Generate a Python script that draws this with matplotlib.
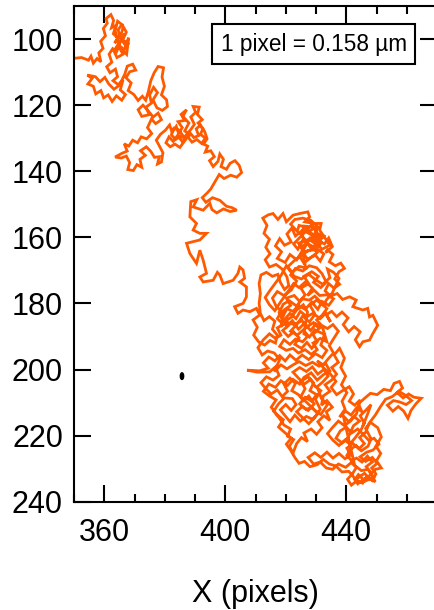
import numpy as np
import matplotlib
matplotlib.use("Agg")
import matplotlib.pyplot as plt
from matplotlib.patches import Ellipse

plt.rcParams['font.family'] = ['Liberation Sans', 'DejaVu Sans']

# ---- data (positions in image pixels) ----
seg_start = [(350.3,105.8),(352.5,105.6),(354.8,106.4),(355.6,105.2),(356.4,107.3),(357.6,105.9),(358.9,106.9),(358.2,104.2),(359.6,102.8),(358.8,100.7),(360.4,99.0),(359.7,96.8),(361.0,95.2),(360.6,93.8),(362.2,92.6),(363.1,94.4),(362.4,96.6),(363.9,95.8),(363.0,98.4),(364.6,99.8),(363.4,101.2),(365.6,98.5),(366.3,96.3),(367.3,97.9),(366.1,100.3),(367.9,101.4),(366.6,103.1),(364.9,102.0),(367.4,104.6),(368.1,99.6),(366.9,101.8),(365.2,99.4),(364.6,97.2),(365.8,95.6),(364.4,94.6),(363.6,97.4),(365.0,102.6),(366.2,104.6),(364.2,105.6),(363.2,103.6),(366.8,98.4),(365.3,100.9),(364.1,103.8),(362.8,102.9),(361.6,104.6),(362.5,107.0),(360.8,108.4),(361.9,110.2),(363.7,109.1),(364.4,111.4),(362.9,112.6),(364.6,113.8),(366.2,112.4),(365.3,115.4),(367.0,116.8),(365.8,118.5),(364.0,117.2),(362.6,118.9),(361.3,116.9),(359.8,117.8),(358.9,115.6),(357.2,116.6),(356.4,114.3),(354.6,113.6),(356.0,111.9),(354.4,110.9),(357.1,111.4),(358.6,112.9),(360.2,111.6),(361.5,113.6),(363.2,115.2),(365.0,114.0),(366.8,110.6),(367.6,108.2),(369.4,107.6),(370.4,109.4),(368.4,109.9),(367.2,111.7),(368.9,113.3),(367.9,115.6),(369.8,116.8),(371.2,118.6),(372.6,117.3),(373.7,118.5)]
seg_loop = [(374.6,115.8),(375.4,112.6),(376.5,110.2),(377.8,108.3),(379.6,108.7),(379.1,111.5),(379.9,114.3),(378.9,116.9),(380.6,118.4),(380.9,120.4),(379.2,121.6),(377.4,120.8),(376.1,118.4),(377.6,116.2),(376.3,114.6),(375.0,116.9),(375.6,119.4),(373.8,120.6),(374.9,122.9),(372.4,123.4),(371.2,121.4),(372.8,120.0),(374.4,121.6),(376.2,123.6),(377.8,122.4),(378.9,124.4),(377.0,125.6),(375.6,124.2)]
seg_lower_left = [(374.3,126.8),(375.7,128.6),(374.0,130.2),(372.2,129.6),(371.0,131.4),(369.4,130.6),(368.1,132.4),(366.6,131.7),(367.6,133.9),(365.8,134.6),(363.6,135.7),(365.6,136.0),(367.3,135.4),(368.4,137.4),(367.8,139.5),(369.6,139.8),(370.8,138.0),(372.4,138.8),(371.8,136.4),(373.6,135.2),(372.0,133.8),(373.9,132.6),(375.4,134.0),(376.6,135.8),(378.2,135.6),(377.6,137.8),(378.9,137.2),(379.4,134.4),(378.2,132.3),(377.2,130.6),(378.6,128.8),(380.2,127.6)]
seg_band = [(381.6,126.0),(382.4,128.2),(383.8,126.4),(384.6,128.6),(385.8,126.8),(384.4,125.0),(386.6,124.6),(385.4,122.8),(387.2,121.4),(386.0,123.4),(388.0,125.4),(386.6,127.8),(388.4,129.0),(387.0,130.2),(385.2,129.4),(383.6,130.4),(382.2,129.0),(383.0,127.0),(384.8,127.6),(386.4,129.8),(388.6,127.4),(389.8,125.8),(388.6,123.6),(390.2,122.2),(389.4,120.4),(391.4,120.6),(390.8,122.8),(392.4,124.4),(391.0,125.4),(392.6,127.2),(391.8,128.8),(393.4,130.0),(392.2,131.6)]
seg_band2 = [(390.6,130.4),(389.0,131.2),(387.6,129.6),(385.8,131.0),(384.2,129.2),(382.8,131.0),(381.4,129.6),(380.4,131.4),(381.8,132.6),(383.4,131.8),(385.0,132.8),(386.6,130.8),(388.2,128.2),(389.6,129.8),(391.2,129.2),(390.4,127.2),(391.8,126.0),(393.2,128.0),(394.0,130.2),(392.8,131.8)]
seg_descent = [(394.2,132.4),(393.4,134.2),(395.2,133.8),(396.4,135.6),(394.8,136.8),(396.0,138.6),(397.6,137.0),(398.2,134.8),(399.4,136.4),(398.6,138.6),(400.4,139.4),(401.6,137.6),(403.2,136.8),(404.6,138.2),(405.4,140.4),(403.8,141.8),(401.8,141.2),(399.6,142.2),(398.0,141.0),(396.6,143.2),(395.2,145.4),(394.0,146.6),(392.4,148.0),(393.6,149.4),(395.8,148.0),(398.2,148.8),(400.4,150.6),(402.2,151.0),(403.8,151.8),(401.6,152.2),(399.4,151.4),(397.2,152.6),(395.6,151.6)]
seg_chain = [(394.9,149.7),(392.7,151.8),(389.4,150.8),(390.6,148.6),(388.6,149.2),(388.3,153.8),(390.5,155.8),(389.4,157.8),(391.6,158.8),(393.8,158.8),(391.6,160.8),(387.2,161.8),(388.3,164.9),(390.5,167.9),(391.6,163.9),(392.7,166.9),(393.8,170.9),(391.6,172.0),(392.7,173.5),(396.0,173.0),(397.4,170.6),(398.2,171.4),(399.3,174.0),(402.6,173.0),(404.2,170.9),(404.8,169.0),(405.9,169.9),(406.4,172.4),(404.8,173.5),(407.0,175.0),(407.0,178.0),(405.9,180.0),(403.1,181.0),(404.2,183.0),(405.9,182.0),(408.1,182.5),(410.3,181.5),(411.4,183.5),(409.2,185.0)]
seg_main_left = [(410.6,187.2),(409.4,189.6),(411.2,191.8),(413.0,192.6),(414.8,191.2),(416.6,192.0),(417.2,189.6),(415.6,187.8),(416.4,185.4),(414.6,184.0),(412.8,185.2),(411.6,183.0),(411.2,180.0),(411.6,177.0),(411.2,174.0),(411.8,171.4),(413.6,170.6),(415.6,171.8),(417.4,171.2),(418.2,173.6),(419.6,175.8),(421.0,174.6),(420.4,172.0),(418.8,169.6),(416.8,168.2),(414.6,169.0),(413.2,166.8),(414.8,165.0),(413.4,163.0),(414.6,160.6),(412.8,158.8),(413.8,156.4),(412.4,154.2),(414.2,153.2),(415.8,152.8),(417.4,154.6),(419.1,152.8),(420.2,155.3),(422.4,153.3),(424.6,152.8),(427.3,152.3),(427.9,153.8),(426.3,155.3),(429.0,155.8),(431.7,155.8),(431.2,157.8),(433.4,160.8),(434.5,162.4)]
seg_top_core = [(432.0,163.6),(429.2,161.0),(431.6,160.0),(427.4,158.4),(429.8,157.0),(426.0,156.6),(425.2,159.4),(428.6,163.6),(426.4,164.6),(424.2,161.8),(427.6,160.6),(430.6,162.4),(428.4,159.2),(425.6,157.8),(423.2,159.6),(422.0,157.2),(420.4,159.0),(421.8,161.4),(419.6,162.4),(418.0,160.4),(416.6,162.6),(418.6,164.4),(417.2,166.4),(419.8,167.6),(421.4,165.2),(423.6,166.8),(425.4,164.2),(427.2,166.6),(429.8,165.4),(431.4,167.2),(432.6,165.0),(430.2,163.4),(427.8,162.2),(425.8,160.6),(424.0,163.6),(422.6,162.0),(426.8,158.0),(428.6,156.2),(430.4,158.8),(432.6,159.6),(430.8,161.4)]
seg_top_core2 = [(428.9,163.0),(430.4,164.6),(428.2,166.2),(426.0,167.8),(424.6,165.8),(422.4,167.4),(420.6,169.0),(422.2,170.6),(424.4,168.8),(426.6,169.2),(425.2,162.8),(427.0,161.8),(425.0,159.0),(427.4,157.0),(424.4,156.4),(423.8,158.2),(421.6,156.0),(423.0,154.6),(425.6,154.2),(428.2,154.8),(430.6,156.8),(429.4,159.6),(431.8,161.6),(429.6,163.8),(427.2,164.0),(424.8,165.6),(426.2,163.2),(428.0,160.2),(430.2,160.8),(432.8,162.0),(434.2,160.2),(435.4,162.8),(433.2,164.6)]
seg_right = [(433.8,163.8),(435.6,165.2),(434.4,167.4),(436.4,168.6),(438.2,167.8),(439.4,169.4),(437.6,170.4),(436.2,172.6),(437.8,174.2),(436.0,175.4),(434.2,174.0),(433.0,176.2),(434.8,177.8),(437.0,177.0),(438.8,178.8),(441.1,178.0),(443.3,179.0),(442.2,181.0),(445.5,182.0),(447.1,181.5),(447.7,184.1),(448.8,183.6),(450.4,186.6),(448.8,189.1),(447.7,191.1),(445.5,191.6),(444.4,193.1),(443.0,191.0),(444.6,188.6),(442.6,187.0),(440.8,188.6),(439.0,186.4),(440.6,184.4),(438.6,182.6),(436.8,184.0),(435.2,182.4),(433.4,183.4),(434.8,185.6),(433.2,183.0)]
seg_middle2 = [(431.4,184.6),(429.6,183.4),(427.8,185.6),(425.6,183.8),(423.8,186.2),(421.6,188.4),(423.8,189.6),(425.8,188.0),(427.4,189.8),(425.6,191.6),(423.2,190.8),(421.4,192.4),(419.4,191.0),(418.0,193.0),(420.2,194.2),(422.4,193.6),(424.2,195.0),(426.4,194.0),(428.4,195.4),(430.4,194.0),(429.0,192.0),(431.4,190.6),(433.6,191.6),(432.2,187.4),(430.0,186.2),(428.2,188.2),(426.2,186.0),(424.2,187.8),(422.2,185.2),(420.4,187.0),(418.8,184.4),(420.4,181.6),(422.4,182.4),(424.2,180.6),(426.4,181.8),(428.6,179.6),(430.6,181.8),(432.0,179.4),(434.2,180.6),(435.8,178.6),(433.6,177.4),(431.2,177.6),(429.4,176.0),(427.2,177.6),(428.8,175.4),(426.6,173.4),(424.4,175.2),(422.6,174.0),(420.6,176.6),(418.4,179.4),(416.4,182.2),(414.6,180.4),(413.2,178.2),(415.0,175.8),(416.8,173.6),(418.4,171.6),(420.2,168.6),(422.8,171.8),(425.2,172.6),(427.6,171.2),(429.8,172.8),(432.2,174.2),(434.6,172.2),(433.8,169.6),(435.8,170.6),(437.6,172.4),(435.4,176.8),(433.4,179.0)]
seg_middle = [(432.4,180.6),(430.2,179.0),(428.0,180.6),(429.4,182.8),(427.0,184.0),(424.8,182.4),(423.4,184.6),(421.4,183.0),(419.6,184.8),(421.0,186.6),(419.0,188.2),(420.8,190.0),(422.6,188.6),(424.4,190.4),(423.0,192.4),(425.2,193.6),(427.0,191.8),(428.6,193.6),(430.4,191.6),(429.0,189.4),(431.0,187.6),(429.2,185.8),(426.8,187.2),(425.4,185.2),(422.8,186.4),(420.0,185.6),(418.4,187.0),(419.4,182.0),(421.6,180.6),(420.2,178.4),(422.8,177.6),(424.6,179.4),(426.4,177.4),(425.0,175.4),(427.6,174.0),(426.0,171.8),(428.6,170.4),(430.8,171.8),(429.2,173.6),(431.6,175.2),(433.4,173.6),(432.0,171.0),(430.2,169.2),(427.8,168.6),(425.6,170.2),(423.2,169.4),(421.6,171.4),(423.6,173.2),(421.8,176.0),(419.4,177.6),(417.2,176.4),(415.6,178.4),(416.8,180.8),(418.6,182.4),(417.2,184.6),(418.8,186.0),(421.8,184.2),(423.6,182.0),(425.8,180.4),(427.2,182.6),(426.0,189.2),(427.8,190.2),(429.6,188.0),(432.8,189.4),(431.6,192.6),(433.6,194.2),(432.0,196.4),(429.8,195.2),(427.6,197.0),(425.4,195.6),(423.4,197.2),(421.4,195.6),(419.8,197.4),(418.0,195.8),(416.4,197.4),(414.4,196.2),(412.6,198.0),(414.2,199.6)]
seg_spike = [(411.4,200.4),(407.2,200.2),(410.6,200.8),(414.7,200.7),(416.6,199.2)]
seg_low_left = [(417.8,201.8),(415.8,203.2),(413.6,202.2),(411.8,204.0),(413.4,205.8),(415.2,207.4),(417.2,206.2),(418.8,208.2),(420.6,206.6),(419.4,204.4),(421.4,202.6),(423.2,204.2),(422.0,206.4),(424.2,207.6)]
seg_low_mid2 = [(425.8,209.4),(427.6,208.0),(429.4,210.4),(427.4,212.4),(425.4,211.2),(423.6,212.8),(425.6,214.6),(427.6,216.4),(429.6,214.6),(431.4,212.0),(429.8,209.0),(431.6,206.4),(429.8,205.2),(428.2,203.0),(426.2,204.4),(424.2,202.6),(422.4,200.8),(424.6,199.4),(426.8,200.6),(428.8,199.2),(430.6,201.4),(432.6,200.0),(434.0,202.0),(432.2,203.8),(430.4,205.2),(431.8,208.8),(433.8,210.6),(431.6,213.6),(429.4,212.2),(427.2,210.2),(425.0,208.2)]
seg_low_mid = [(426.4,205.8),(425.0,203.6),(427.4,202.2),(429.2,204.0),(428.0,206.4),(430.2,207.6),(428.6,209.6),(426.4,208.4),(424.6,210.4),(426.6,212.0),(428.8,211.6),(430.6,213.4),(428.8,215.0),(426.8,214.2),(424.8,215.6),(423.0,213.8),(421.4,215.8),(419.8,214.0),(418.2,212.2),(420.0,210.6),(421.8,212.4),(423.4,210.6),(422.2,208.8),(419.6,208.6),(417.6,210.4),(416.0,212.6),(417.8,214.6),(419.4,216.8),(421.6,218.0),(420.6,220.2),(422.6,221.2),(421.2,223.2),(422.4,225.3),(423.6,222.4),(425.2,220.6),(427.2,221.8),(426.0,219.2),(428.4,218.0),(430.2,219.6),(432.0,217.6),(430.6,215.8),(432.6,214.0),(434.6,215.4),(433.4,212.8),(435.4,211.4),(433.6,209.4),(431.8,210.8),(432.4,208.0),(434.6,206.6),(433.0,204.6),(435.2,203.2),(436.8,201.4),(435.2,199.4),(437.4,197.8),(436.0,195.6),(437.8,193.6),(439.4,196.6),(438.2,199.4),(439.8,202.0),(438.4,204.6),(440.2,207.0),(438.6,209.6),(439.6,212.0)]
seg_arm = [(437.8,214.4),(439.8,212.6),(441.6,213.8),(443.4,211.6),(445.2,212.8),(444.0,210.4),(446.2,208.6),(448.0,207.2),(450.2,207.6),(452.4,206.0),(454.6,206.4),(455.8,204.2),(457.6,203.6),(458.6,205.6),(456.8,207.0),(458.8,208.6),(460.6,207.4),(462.4,208.4),(464.8,208.7),(463.0,210.4),(461.4,212.4),(460.4,214.8),(459.0,212.6),(457.2,211.2),(455.4,212.6),(453.6,210.8),(455.6,209.4),(457.6,209.8),(459.8,210.6),(461.6,209.4),(459.6,207.8),(457.4,206.6),(455.2,208.2),(453.0,209.0),(451.2,211.4),(449.6,213.8),(447.6,216.2),(446.4,219.0)]
seg_bottom = [(444.4,220.6),(446.0,222.4),(444.2,224.0),(442.2,222.4),(440.2,223.8),(441.6,225.8),(439.6,227.0),(437.6,225.4),(435.6,226.8),(433.6,225.0),(431.6,226.6),(429.6,225.2),(427.4,226.6),(429.2,228.6),(431.4,228.0),(433.4,229.8),(435.5,230.2),(437.4,228.6),(439.8,229.6),(441.6,228.2),(443.4,229.6),(442.0,231.6),(440.4,233.2),(441.7,235.0),(443.6,233.6),(445.4,234.4),(446.8,232.4),(448.6,233.6),(449.8,231.6),(448.4,229.8),(450.2,228.4),(448.6,226.6),(446.4,227.8),(444.6,226.4),(446.8,225.0),(448.8,224.4),(450.8,222.6),(449.2,220.8),(447.4,221.4),(445.6,219.6),(443.8,218.0),(441.8,219.2),(440.0,217.4),(438.0,218.6),(436.6,220.8),(438.6,222.2),(440.6,220.6),(442.4,217.0),(444.4,215.6),(442.6,214.2),(440.8,215.8),(439.0,214.0),(442.8,229.0),(445.0,230.6),(447.2,230.2),(449.0,232.6),(446.2,233.8),(444.0,231.8),(442.6,233.6)]
seg_bottom2 = [(444.2,232.6),(446.0,231.4),(447.8,233.0),(449.6,234.0),(448.2,231.4),(446.6,229.4),(448.6,228.0),(447.0,226.2),(445.2,228.0),(443.4,226.8),(441.8,227.6),(440.2,226.0),(441.4,224.2),(443.2,223.0),(445.0,224.6),(447.2,223.2),(448.2,221.0),(446.4,217.8),(448.0,216.0),(450.4,217.6),(451.6,220.4),(449.8,223.2),(451.4,225.4),(450.0,227.6),(451.6,229.8),(449.6,230.2),(447.6,232.2),(445.8,233.2),(443.8,234.6),(442.2,232.2),(440.8,230.8),(438.6,231.0),(436.6,229.2),(434.4,228.6),(432.4,227.2),(430.4,228.8),(428.0,229.4)]
seg_extra1 = [(426.2,227.8),(424.4,228.4),(423.0,226.6),(421.6,224.4),(420.2,222.6),(421.8,220.8),(419.6,219.0),(417.6,217.4),(419.2,215.2),(417.0,213.6),(415.2,211.4),(416.8,209.2),(414.6,208.0),(412.6,206.6),(414.4,204.4),(416.6,205.4),(418.4,203.4),(420.6,204.8),(422.4,203.0),(424.6,204.4),(426.0,202.4),(428.4,201.0),(430.4,203.2),(432.4,201.6),(434.6,200.4),(433.2,198.2),(431.0,199.0),(428.8,197.8),(426.6,198.8),(424.4,197.6),(422.4,198.6),(420.4,199.8),(418.4,198.6),(416.2,200.6),(418.0,197.0),(416.2,195.0),(414.0,194.4),(412.2,195.6),(410.8,193.4),(412.6,191.0),(414.6,189.2),(416.6,190.6),(418.4,189.6),(417.2,187.4),(419.6,186.2),(417.8,182.8),(419.2,180.2),(421.2,179.2),(423.6,180.8),(425.4,178.6),(427.8,179.0),(429.6,177.8),(431.6,179.6),(433.6,181.6),(432.0,183.6),(430.2,185.0),(431.8,186.6),(433.8,187.6),(435.6,186.4),(437.4,188.4),(436.0,190.4),(434.4,192.8),(435.8,195.0),(434.0,196.8),(432.4,198.6),(430.4,197.4)]
seg_extra2 = [(432.6,199.6),(434.8,201.4),(436.6,203.6),(435.0,205.4),(436.8,207.6),(438.8,206.4),(441.0,205.2),(442.4,207.4),(441.0,209.6),(442.8,210.8),(444.6,209.2),(443.4,213.4),(441.4,215.6),(439.4,217.0),(437.4,215.6),(435.4,217.6),(433.8,219.4),(435.6,221.4),(437.6,223.0),(439.6,221.4),(441.2,222.6),(443.0,220.6),(444.8,218.4),(446.0,216.2),(444.6,214.0),(446.6,212.2),(448.2,210.6),(447.0,213.6),(445.6,216.8)]

marker_xy = (385.7, 202.0)
x_ticks = [360, 400, 440]
y_ticks = [100, 120, 140, 160, 180, 200, 220, 240]
scale_text = "1 pixel = 0.158 µm"
x_label = "X (pixels)"

segments = [seg_start, seg_loop, seg_lower_left, seg_band, seg_band2, seg_descent,
            seg_chain, seg_main_left, seg_top_core, seg_top_core2, seg_right,
            seg_middle2, seg_middle, seg_spike, seg_low_left, seg_low_mid2,
            seg_low_mid, seg_arm, seg_bottom, seg_bottom2, seg_extra1, seg_extra2]
track = np.array([p for s in segments for p in s])

fig = plt.figure(figsize=(4.34, 6.10), dpi=100)
ax = fig.add_axes([74/434, (610-501.7)/610, (437-74)/434, (501.7-6)/610])

ax.plot(track[:, 0], track[:, 1], color='#FF5A00', lw=2.0, solid_joinstyle='miter')
ax.add_patch(Ellipse(marker_xy, width=1.1, height=2.0, color='black', zorder=3))

ax.set_xlim(350, 470)
ax.set_ylim(240, 90)
ax.set_xticks(x_ticks)
ax.set_xticks(np.arange(350, 471, 10), minor=True)
ax.set_yticks(y_ticks)
ax.tick_params(which='both', direction='in', top=True, right=True, width=1.5,
               labelsize=22)
ax.tick_params(which='major', length=12, pad=8)
ax.tick_params(which='minor', length=6)
ax.tick_params(axis='x', which='major', pad=12)
for sp in ax.spines.values():
    sp.set_linewidth(1.5)

ax.set_xlabel(x_label, fontsize=22, labelpad=22)

ax.text(0.66, 0.923, scale_text, transform=ax.transAxes, fontsize=16.3,
        ha='center', va='center',
        bbox=dict(boxstyle='square,pad=0.38', fc='white', ec='black', lw=1.5))

fig.savefig('out.png', dpi=100)
